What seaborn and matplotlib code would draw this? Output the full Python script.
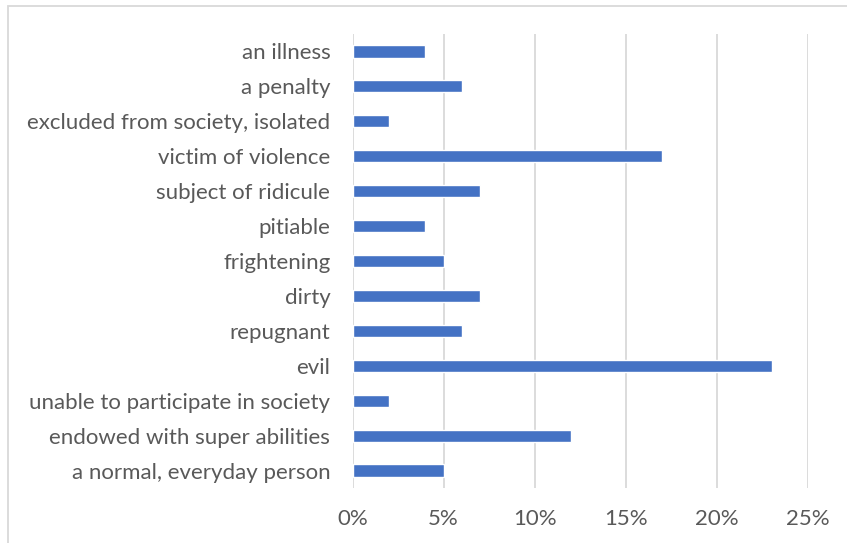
import matplotlib
matplotlib.use("Agg")
import matplotlib.pyplot as plt
import matplotlib.patches as mpatches
from matplotlib.ticker import FuncFormatter, MultipleLocator
import seaborn as sns
import pandas as pd

categories = [
    "an illness",
    "a penalty",
    "excluded from society, isolated",
    "victim of violence",
    "subject of ridicule",
    "pitiable",
    "frightening",
    "dirty",
    "repugnant",
    "evil",
    "unable to participate in society",
    "endowed with super abilities",
    "a normal, everyday person",
]
shares = [4, 6, 2, 17, 7, 4, 5, 7, 6, 23, 2, 12, 5]

df = pd.DataFrame({"category": categories, "share": shares})

sns.set_theme(style="white")
plt.rcParams["font.family"] = ["Lato", "DejaVu Sans"]

W, H, DPI = 847, 543, 100
fig = plt.figure(figsize=(W / DPI, H / DPI), dpi=DPI)
ax = fig.add_axes([352.5 / W, 1 - 488 / H, (808 - 352.5) / W, (488 - 34) / H])

sns.barplot(data=df, x="share", y="category", color="#4472C4", width=0.35,
            saturation=1, ax=ax, orient="h")

ax.set_xlim(0, 25)
ax.set_ylim(len(categories) - 0.5, -0.5)
ax.xaxis.set_major_locator(MultipleLocator(5))
ax.xaxis.set_major_formatter(FuncFormatter(lambda v, _: f"{v:.0f}%"))
ax.grid(axis="x", color="#D9D9D9", linewidth=1.3)
ax.set_axisbelow(True)
for s in ax.spines.values():
    s.set_visible(False)
ax.set_xlabel("")
ax.set_ylabel("")
ax.tick_params(axis="both", length=0, labelsize=16, colors="#595959")
ax.tick_params(axis="x", pad=15)
ax.tick_params(axis="y", pad=16)

# chart-area outline
fig.patches.append(mpatches.Rectangle((8 / W, -0.1), 1.2, 1.1 - 6 / H,
                                      transform=fig.transFigure, fill=False,
                                      edgecolor="#D9D9D9", linewidth=1.3))

fig.savefig("out.png", dpi=DPI)
